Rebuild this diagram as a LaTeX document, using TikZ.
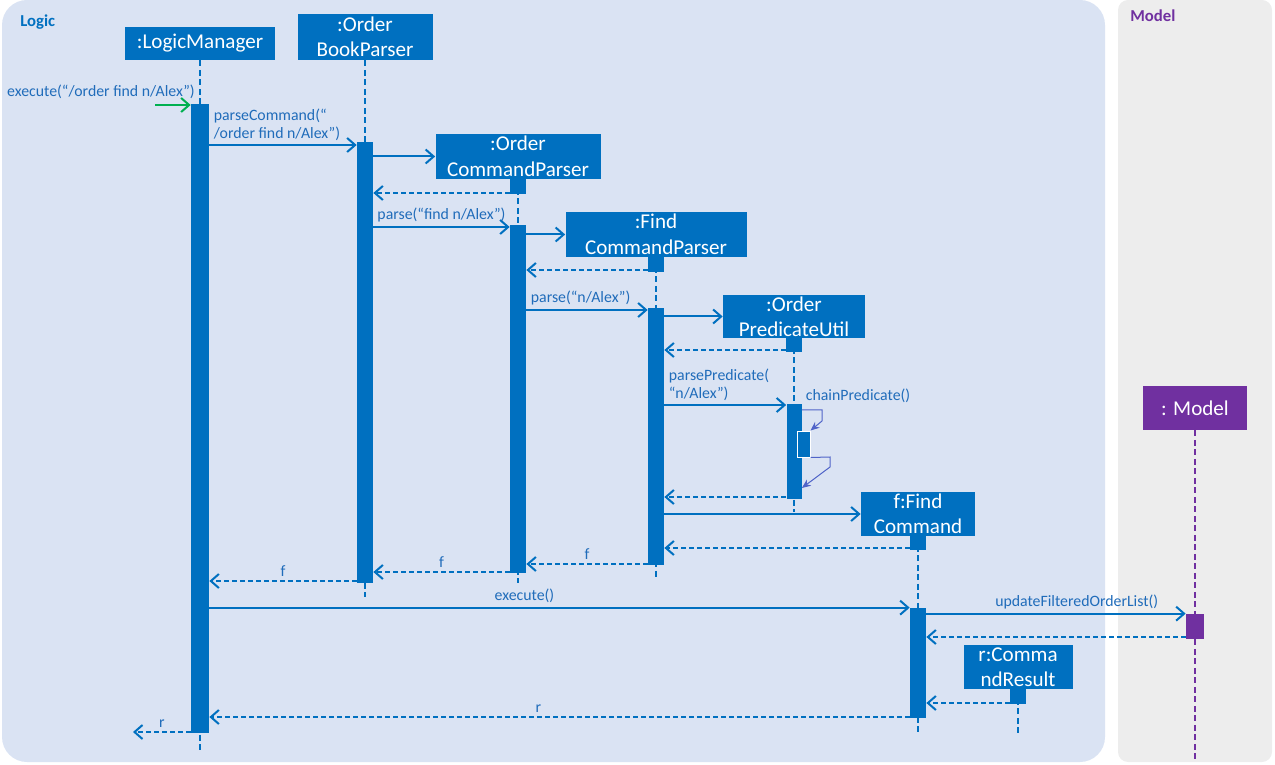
\documentclass[tikz,border=0pt]{standalone}
\usepackage{fontspec}
\setmainfont{Carlito}
\usepackage{tikz}
\usetikzlibrary{arrows.meta,backgrounds}
\definecolor{sBlue}{RGB}{0,112,192}
\definecolor{sText}{RGB}{32,108,186}
\definecolor{sPurple}{RGB}{112,48,160}
\definecolor{sLogic}{RGB}{218,227,243}
\definecolor{sModel}{RGB}{237,237,237}
\definecolor{sGreen}{RGB}{0,176,80}
\definecolor{sSelf}{RGB}{80,100,200}
\tikzset{
  obj/.style={rectangle, fill=sBlue, text=white, align=center, inner sep=0pt,
              font=\fontsize{12}{14.5}\selectfont},
  act/.style={rectangle, fill=sBlue, inner sep=0pt, minimum width=3.2mm},
  life/.style={draw=sBlue, line width=0.4mm, dash pattern=on 1.2mm off 0.7mm},
  msg/.style={-{Straight Barb[length=1.6mm,width=2.8mm]}, draw=sBlue, line width=0.4mm},
  ret/.style={msg, dash pattern=on 1mm off 0.6mm},
  selfmsg/.style={-{Stealth[length=1.8mm,width=1.5mm]}, draw=sSelf, line width=0.2mm},
  lbl/.style={text=sText, font=\fontsize{9}{10.2}\selectfont, inner sep=2pt, align=left},
  pane/.style={font=\fontsize{9.5}{11}\selectfont\bfseries, inner sep=0pt},
}
\newcommand{\ActBar}[5][]{%
  \node[act,#1,minimum height={(#5-#4)*0.2mm}] (#2) at (#3,{(#4+#5)/2}) {};}

\begin{document}
\begin{tikzpicture}[x=0.2mm,y=-0.2mm]
  \useasboundingbox (0,0) rectangle (1275,765);
  \begin{scope}[on background layer]
    \fill[sLogic, rounded corners=5mm] (2,0) rectangle (1105,762);
    \fill[sModel, rounded corners=2mm] (1118,0) rectangle (1272,762);
  \end{scope}
  \node[pane, text=sBlue, anchor=west] (logicLbl) at (20,22) {Logic};
  \node[pane, text=sPurple, anchor=west] (modelLbl) at (1130,16) {Model};

  % participants
  \node[obj, minimum width=30mm, minimum height=6.6mm] (lm) at (200,43.5) {:LogicManager};
  \node[obj, minimum width=27mm, minimum height=9.2mm] (obp) at (365,37) {:Order\\BookParser};
  \node[obj, minimum width=33mm, minimum height=9mm] (ocp) at (518,156.5) {:Order\\CommandParser};
  \node[obj, minimum width=36.2mm, minimum height=9mm] (fcp) at (656,234.5) {:Find\\CommandParser};
  \node[obj, minimum width=28.4mm, minimum height=8.6mm] (opu) at (794,316.5) {:Order\\PredicateUtil};
  \node[obj, minimum width=22.8mm, minimum height=8.8mm] (fc) at (918,514) {f:Find\\Command};
  \node[obj, minimum width=21.8mm, minimum height=8.8mm] (cr) at (1018,667) {r:Comma\\ndResult};
  \node[obj, fill=sPurple, minimum width=20.8mm, minimum height=8.8mm] (mdl) at (1195,408) {: Model};

  % lifelines
  \begin{scope}[on background layer]
    \draw[life] (lm.south) -- ++(0,690);
    \draw[life] (obp.south) -- ++(0,537);
    \draw[life] (ocp.south) -- ++(0,404);
    \draw[life] (fcp.south) -- ++(0,323);
    \draw[life] (opu.south) -- ++(0,174);
    \draw[life] (fc.south) -- ++(0,197);
    \draw[life] (cr.south) -- ++(0,44);
    \draw[life, draw=sPurple] (mdl.south) -- ++(0,332);
  \end{scope}

  % activations
  \ActBar[minimum width=3.6mm]{aLM}{200}{104}{733}
  \ActBar{aOBP}{365}{142}{583}
  \ActBar{dOCP}{518}{179}{194}
  \ActBar{aOCP}{518}{225}{573}
  \ActBar{dFCP}{656}{257}{272}
  \ActBar{aFCP}{656}{308}{565}
  \ActBar{dOPU}{794}{338}{352}
  \ActBar[minimum width=3mm]{aOPU}{794}{404}{499}
  \ActBar[draw=white, line width=0.2mm, minimum width=2.6mm]{nOPU}{803.5}{431}{457}
  \ActBar{dFC}{918}{536}{550}
  \ActBar{aFC}{918}{608}{718}
  \ActBar{dCR}{1018}{689}{704}
  \ActBar[fill=sPurple, minimum width=3.6mm]{aMdl}{1195}{614}{639}

  % messages
  \coordinate (found) at (155,105);
  \draw[msg, draw=sGreen] (found) -- (aLM.west |- found);
  \node[lbl] (lExec) at (101,92) {execute(“/order find n/Alex”)};
  \draw[msg] (aLM.east |- 0,145) -- node[lbl, pos=0, anchor=south west]
        {parseCommand(“\\/order find n/Alex”)} (aOBP.west |- 0,145);
  \draw[msg] (aOBP.east |- ocp.west) -- (ocp.west);
  \draw[ret] (dOCP.west |- 0,193) -- (aOBP.east |- 0,193);
  \draw[msg] (aOBP.east |- 0,227) -- node[lbl, above] {parse(“find n/Alex”)} (aOCP.west |- 0,227);
  \draw[msg] (aOCP.east |- fcp.west) -- (fcp.west);
  \draw[ret] (dFCP.west |- 0,270) -- (aOCP.east |- 0,270);
  \draw[msg] (aOCP.east |- 0,310) -- node[lbl, pos=0, anchor=south west]
        {parse(“n/Alex”)} (aFCP.west |- 0,310);
  \draw[msg] (aFCP.east |- opu.west) -- (opu.west);
  \draw[ret] (dOPU.west |- 0,350) -- (aFCP.east |- 0,350);
  \draw[msg] (aFCP.east |- 0,405) -- node[lbl, pos=0, anchor=south west]
        {parsePredicate(\\“n/Alex”)} (aOPU.west |- 0,405);

  % self call
  \draw[selfmsg] (aOPU.east |- 0,410) -- (822,410) -- (822,421) -- (nOPU.north east);
  \draw[selfmsg] (nOPU.south east) -- (830,457) -- (830,467) -- (aOPU.east |- 0,488);
  \node[lbl, anchor=west] (lChain) at (802,396) {chainPredicate()};

  \draw[ret] (aOPU.west |- 0,497) -- (aFCP.east |- 0,497);
  \draw[msg] (aFCP.east |- fc.west) -- (fc.west);
  \draw[ret] (dFC.west |- 0,548) -- (aFCP.east |- 0,548);
  \draw[ret] (aFCP.west |- 0,564) -- node[lbl, above] {f} (aOCP.east |- 0,564);
  \draw[ret] (aOCP.west |- 0,572) -- node[lbl, above] {f} (aOBP.east |- 0,572);
  \draw[ret] (aOBP.west |- 0,581) -- node[lbl, above] {f} (aLM.east |- 0,581);
  \draw[msg] (aLM.east |- aFC.north) -- node[lbl, above, pos=0.45] {execute()} (aFC.north west);
  \draw[msg] (aFC.east |- aMdl.north) -- node[lbl, above, pos=0.58]
        {updateFilteredOrderList()} (aMdl.north west);
  \draw[ret] (aMdl.west |- 0,637) -- (aFC.east |- 0,637);
  \draw[ret] (dCR.west |- 0,703) -- (aFC.east |- 0,703);
  \draw[ret] (aFC.west |- 0,717) -- node[lbl, above, pos=0.53] {r} (aLM.east |- 0,717);
  \coordinate (out) at (133,732);
  \draw[ret] (aLM.west |- out) -- node[lbl, above] {r} (out);
\end{tikzpicture}
\end{document}
